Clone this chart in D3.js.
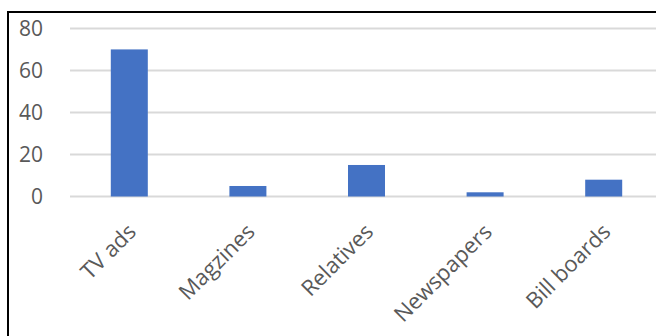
<html>
  <head>
    <style>
      body { margin: 0; background: #fff; }
      text { font-family: "Open Sans", sans-serif; fill: #595959; }
    </style>
  </head>
  <body>
    <svg width="656" height="336"></svg>
    <script src="https://d3js.org/d3.v7.min.js"></script>
    <script>
      var categories = ["TV ads", "Magzines", "Relatives", "Newspapers", "Bill boards"];
      var values     = [70, 5, 15, 2, 8];
      var yTicks     = [0, 20, 40, 60, 80];

      var svg = d3.select("svg");

      // frame (right and bottom edges run off the picture)
      svg.append("rect")
          .attr("x", 8).attr("y", 12)
          .attr("width", 700).attr("height", 400)
          .attr("fill", "none")
          .attr("stroke", "#000")
          .attr("stroke-width", 2);

      var x = d3.scaleBand()
          .domain(categories)
          .range([70, 663])
          .paddingInner(0.688)
          .paddingOuter(0.344);

      var y = d3.scaleLinear()
          .domain([0, 80])
          .range([196.5, 28.4]);

      // gridlines
      svg.append("g").selectAll("line")
          .data(yTicks)
          .enter().append("line")
          .attr("x1", 70).attr("x2", 663)
          .attr("y1", function(d) { return y(d); })
          .attr("y2", function(d) { return y(d); })
          .attr("stroke", "#d9d9d9")
          .attr("stroke-width", 2);

      // y labels
      svg.append("g").selectAll("text")
          .data(yTicks)
          .enter().append("text")
          .attr("x", 43)
          .attr("y", function(d) { return y(d); })
          .attr("dy", "0.36em")
          .attr("text-anchor", "end")
          .style("font-size", "21px")
          .text(function(d) { return d; });

      // bars
      svg.append("g").selectAll("rect")
          .data(values)
          .enter().append("rect")
          .attr("x", function(d, i) { return x(categories[i]); })
          .attr("width", x.bandwidth())
          .attr("y", function(d) { return y(d); })
          .attr("height", function(d) { return y(0) - y(d); })
          .attr("fill", "#4472c4");

      // category labels, rotated
      svg.append("g").selectAll("text")
          .data(categories)
          .enter().append("text")
          .attr("transform", function(d) {
            return "translate(" + (x(d) + x.bandwidth() / 2 - 3) + ",222) rotate(-45)";
          })
          .attr("dy", "0.72em")
          .attr("text-anchor", "end")
          .style("font-size", "22px")
          .text(function(d) { return d; });
    </script>
  </body>
</html>
